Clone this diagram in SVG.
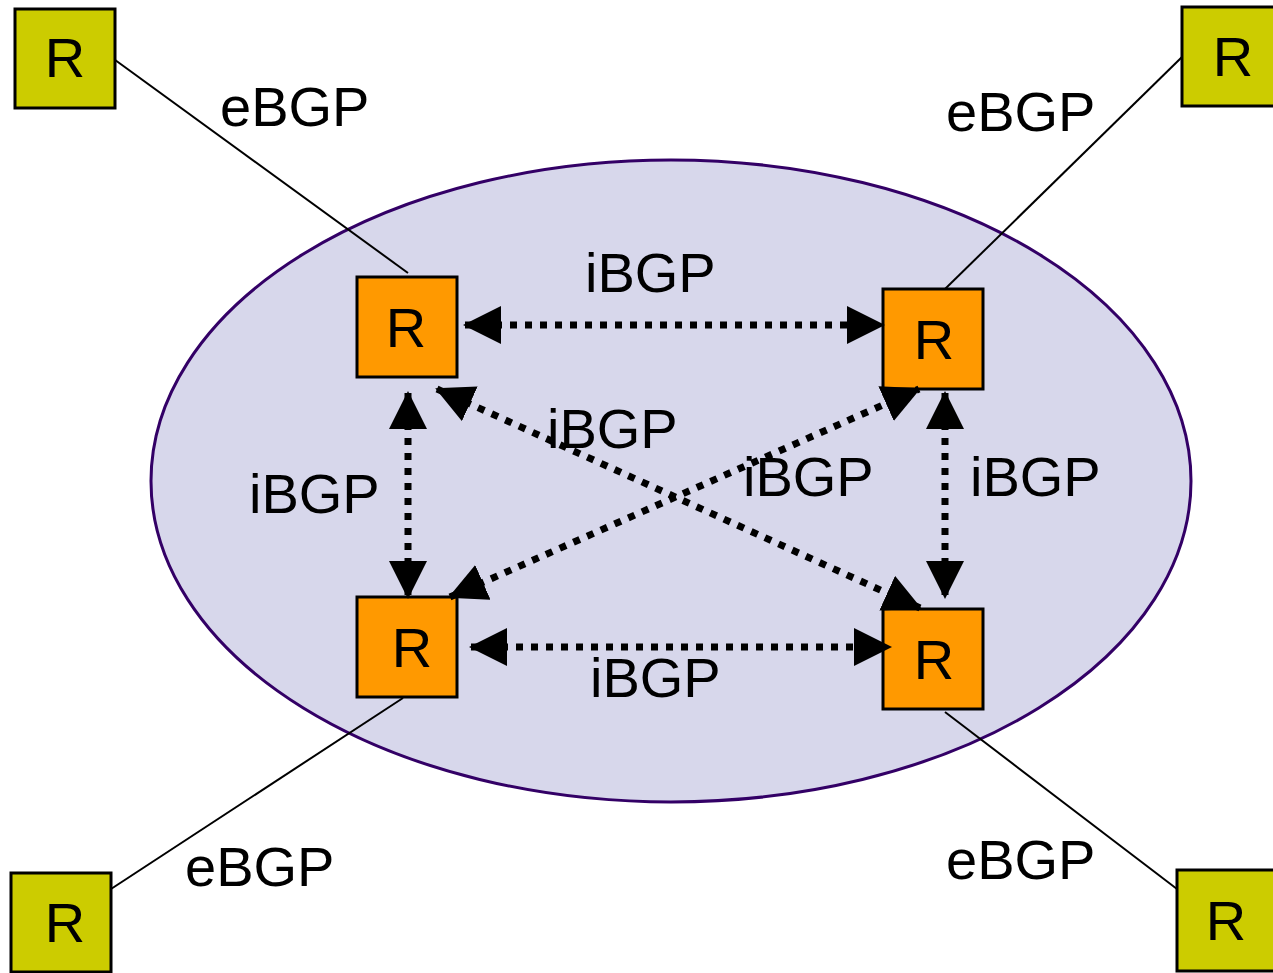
<svg xmlns="http://www.w3.org/2000/svg" width="1273" height="973" viewBox="0 0 1273 973">
<style>
.inner{fill:#FF9900;stroke:#000;stroke-width:3}
.outer{fill:#CCCC00;stroke:#000;stroke-width:3}
.lbl{font-family:"Liberation Sans",Arial,sans-serif;font-size:56px;fill:#000}
.r{font-family:"Liberation Sans",Arial,sans-serif;font-size:56px;fill:#000;text-anchor:middle}
.ebgp{stroke:#000;stroke-width:2;fill:none}
.ibgp{stroke:#000;stroke-width:7;stroke-dasharray:7 8;fill:none;marker-start:url(#ah);marker-end:url(#ah)}
</style>
<defs>
<marker id="ah" viewBox="0 0 38 38" refX="36" refY="19" markerWidth="38" markerHeight="38" markerUnits="userSpaceOnUse" orient="auto-start-reverse">
<path d="M0,0 L38,19 L0,38 z" fill="#000"/>
</marker>
</defs>
<g id="as">
<ellipse cx="671" cy="481" rx="520" ry="321" fill="#D7D7EB" stroke="#330066" stroke-width="3"/>
</g>
<g id="connectors">
<line class="ebgp" x1="111" y1="57" x2="408" y2="273"/>
<line class="ebgp" x1="1182" y1="57" x2="945" y2="289"/>
<line class="ebgp" x1="403" y1="698" x2="111" y2="889"/>
<line class="ebgp" x1="945" y1="712" x2="1177" y2="889"/>
</g>
<g id="r-in-tl"><rect class="inner" x="357" y="277" width="100" height="100"/><text class="r" x="406" y="347">R</text></g>
<g id="r-in-tr"><rect class="inner" x="883" y="289" width="100" height="100"/><text class="r" x="934" y="359">R</text></g>
<g id="r-in-bl"><rect class="inner" x="357" y="597" width="100" height="100"/><text class="r" x="412" y="667">R</text></g>
<g id="r-in-br"><rect class="inner" x="883" y="609" width="100" height="100"/><text class="r" x="934" y="679">R</text></g>
<g id="r-out-tl"><rect class="outer" x="15" y="9" width="100" height="99"/><text class="r" x="65" y="77">R</text></g>
<g id="r-out-tr"><rect class="outer" x="1182" y="7" width="100" height="99"/><text class="r" x="1233" y="76">R</text></g>
<g id="r-out-bl"><rect class="outer" x="11" y="873" width="100" height="99"/><text class="r" x="65" y="942">R</text></g>
<g id="r-out-br"><rect class="outer" x="1177" y="870" width="100" height="101"/><text class="r" x="1226" y="940">R</text></g>
<g id="ibgp-connectors">
<line class="ibgp" x1="465" y1="325" x2="883" y2="325"/>
<line class="ibgp" x1="471" y1="647" x2="890" y2="647"/>
<line class="ibgp" x1="408" y1="393" x2="408" y2="597"/>
<line class="ibgp" x1="945" y1="393" x2="945" y2="597"/>
<line class="ibgp" x1="437" y1="389" x2="920" y2="608"/>
<line class="ibgp" x1="450" y1="597" x2="919" y2="389"/>
</g>
<g id="labels">
<text class="lbl" x="220" y="126">eBGP</text>
<text class="lbl" x="946" y="131">eBGP</text>
<text class="lbl" x="185" y="886">eBGP</text>
<text class="lbl" x="946" y="879">eBGP</text>
<text class="lbl" x="585" y="292">iBGP</text>
<text class="lbl" x="547" y="448">iBGP</text>
<text class="lbl" x="743" y="496">iBGP</text>
<text class="lbl" x="249" y="513">iBGP</text>
<text class="lbl" x="970" y="496">iBGP</text>
<text class="lbl" x="590" y="697">iBGP</text>
</g>
</svg>
